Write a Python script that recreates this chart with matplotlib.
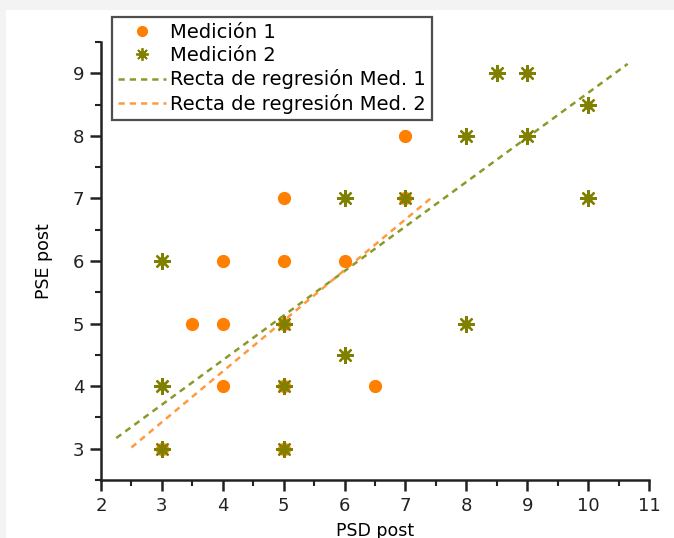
import matplotlib
matplotlib.use("Agg")
import matplotlib.pyplot as plt
from matplotlib.patches import Rectangle
from matplotlib.legend_handler import HandlerTuple
from matplotlib.ticker import MultipleLocator

# Medición 1 (orange circles)
med1_x = [3, 3.5, 4, 4, 4, 5, 5, 5, 5, 5, 6, 6.5, 7, 7]
med1_y = [3, 5, 5, 6, 4, 7, 6, 5, 4, 3, 6, 4, 8, 7]

# Medición 2 (olive stars)
med2_x = [3, 3, 3, 5, 5, 5, 6, 6, 7, 8, 8, 8.5, 9, 9, 10, 10]
med2_y = [6, 4, 3, 5, 4, 3, 7, 4.5, 7, 8, 5, 9, 9, 8, 8.5, 7]

# regression lines, end points
reg1_x = [2.25, 10.65]
reg1_y = [3.17, 9.15]
reg2_x = [2.5, 7.45]
reg2_y = [3.02, 7.03]

ORANGE = "#ff7f00"
OLIVE = "#7f7f00"

plt.rcParams["font.family"] = ["DejaVu Sans"]

fig = plt.figure(figsize=(6.74, 5.38), dpi=100, facecolor="#f3f3f3")
# white page with the grey strip along top and left
fig.patches.append(Rectangle((6 / 674, 0), 1, 1 - 10 / 538, transform=fig.transFigure,
                             facecolor="white", edgecolor="none", zorder=-10))

ax = fig.add_axes([101 / 674, 1 - 480 / 538, 548 / 674, (480 - 42) / 538])
ax.set_facecolor("none")

ax.plot(reg1_x, reg1_y, ls=(0, (2.5, 2)), lw=1.8, color="#8a9a2a", zorder=2)
ax.plot(reg2_x, reg2_y, ls=(0, (2.5, 2)), lw=1.8, color="#ff9a40", zorder=2)

ax.plot(med1_x, med1_y, "o", ms=8.5, color=ORANGE, mec=ORANGE, zorder=3)
ax.plot(med2_x, med2_y, "o", ms=5.5, color=OLIVE, mec=OLIVE, zorder=4)
ax.plot(med2_x, med2_y, ls="none", marker=(8, 2, 0), ms=12, mew=1.6, color=OLIVE, zorder=4)

ax.set_xlim(2, 11)
ax.set_ylim(2.5, 9.5)
ax.xaxis.set_major_locator(MultipleLocator(1))
ax.xaxis.set_minor_locator(MultipleLocator(0.5))
ax.yaxis.set_major_locator(MultipleLocator(1))
ax.yaxis.set_minor_locator(MultipleLocator(0.5))
ax.set_yticks([3, 4, 5, 6, 7, 8, 9])

for side in ("top", "right"):
    ax.spines[side].set_visible(False)
for side in ("left", "bottom"):
    ax.spines[side].set_linewidth(1.8)
    ax.spines[side].set_color("#222222")
ax.tick_params(which="major", direction="out", length=8, width=1.8, labelsize=13,
               colors="#222222", pad=4)
ax.tick_params(which="minor", direction="out", length=4, width=1.5, colors="#222222")

ax.set_xlabel("PSD post", fontsize=12.5, labelpad=5)
ax.set_ylabel("PSE post", fontsize=12.5, labelpad=14)

# legend handles
h1 = plt.Line2D([], [], ls="none", marker="o", ms=7, color=ORANGE)
h2a = plt.Line2D([], [], ls="none", marker="o", ms=4, color=OLIVE)
h2b = plt.Line2D([], [], ls="none", marker=(8, 2, 0), ms=9, mew=1.3, color=OLIVE)
h3 = plt.Line2D([], [], ls=(0, (2.5, 2)), lw=1.8, color="#8a9a2a")
h4 = plt.Line2D([], [], ls=(0, (2.5, 2)), lw=1.8, color="#ff9a40")
leg = fig.legend([h1, (h2a, h2b), h3, h4],
                 ["Medición 1", "Medición 2", "Recta de regresión Med. 1",
                  "Recta de regresión Med. 2"],
                 handler_map={tuple: HandlerTuple(ndivide=1, pad=0)},
                 loc="upper left", bbox_to_anchor=(112 / 674, 1 - 17 / 538),
                 fontsize=14, frameon=True, fancybox=False, handlelength=2.5,
                 handletextpad=0.2, labelspacing=0.22, borderpad=0.3,
                 borderaxespad=0)
leg.get_frame().set_edgecolor("#222222")
leg.get_frame().set_linewidth(1.6)

fig.savefig("out.png", dpi=100, facecolor=fig.get_facecolor())
